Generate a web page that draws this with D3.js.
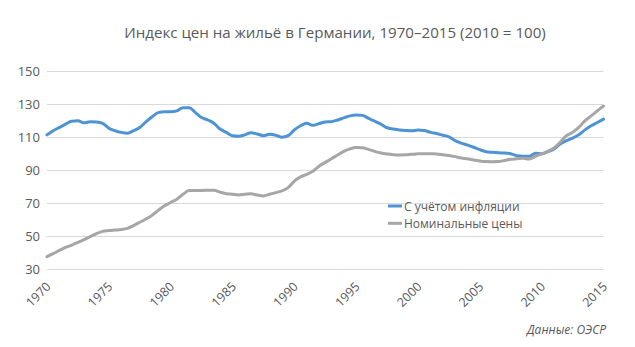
<!DOCTYPE html>
<html><head><meta charset="utf-8">
<script src="https://cdn.jsdelivr.net/npm/d3@7/dist/d3.min.js"></script>
<style>
html,body{margin:0;padding:0;background:#fff;}
svg{display:block;font-family:"Open Sans","Noto Sans",sans-serif;}
</style></head>
<body>
<svg id="chart" width="635" height="347"></svg>
<script>
// Semi-annual observation dates (year + fraction)
const years = d3.range(0, 91).map(i => 1970 + i * 0.5);

const realPrices = [
 111.0,113.5,115.5,117.5,119.3,119.5,118.3,119.0,118.8,118.0,
 115.0,113.5,112.5,112.0,113.5,115.5,118.8,122.0,124.5,125.0,
 125.0,125.5,127.5,127.5,124.5,121.5,120.0,118.0,114.5,112.5,
 110.5,110.2,111.0,112.2,111.5,110.5,111.3,110.8,109.5,110.5,
 114.0,116.5,118.0,116.8,117.8,118.8,119.0,120.0,121.3,122.5,
 123.0,122.8,121.0,119.3,117.5,115.3,114.5,113.9,113.6,113.5,
 113.9,113.7,112.5,111.8,110.8,109.8,107.5,106.0,104.8,103.5,
 102.0,100.8,100.4,100.1,100.0,99.6,98.3,98.0,98.0,99.8,
 99.5,100.8,102.5,105.5,107.5,109.0,111.0,114.0,116.5,118.5,
 120.5
];

const nominalPrices = [
 37.2,39.0,41.0,42.8,44.2,45.8,47.5,49.3,51.2,52.5,
 53.0,53.3,53.6,54.3,56.0,58.0,60.0,62.3,65.2,68.0,
 70.0,72.0,75.0,77.2,77.3,77.3,77.5,77.5,76.3,75.3,
 75.0,74.6,75.0,75.3,74.5,74.0,75.0,76.0,77.0,79.0,
 83.0,85.5,87.0,89.0,92.0,94.3,96.5,98.8,101.0,102.5,
 103.3,103.2,102.2,101.0,100.0,99.4,99.0,98.8,98.9,99.2,
 99.5,99.6,99.5,99.4,99.0,98.5,97.8,97.0,96.5,95.8,
 95.2,94.8,94.7,94.8,95.5,96.2,96.5,96.8,96.3,98.0,
 99.5,101.0,103.0,106.5,110.5,112.5,115.5,119.5,122.5,125.5,
 128.5
];

const seriesNames = ["С учётом инфляции", "Номинальные цены"];
const xTickYears = [1970,1975,1980,1985,1990,1995,2000,2005,2010,2015];
const yTicks = [30,50,70,90,110,130,150];
const titleText = "Индекс цен на жильё в Германии, 1970–2015 (2010 = 100)";
const sourceText = "Данные: ОЭСР";

(function(){
const colors = ["#4e93d3", "#a6a6a6"];
const textColor = "#595959";

const svg = d3.select("#chart");
const mLeft = 47, mRight = 603.5, mTop = 70.5, mBottom = 268.5;

const x = d3.scaleLinear().domain([1970, 2015]).range([mLeft, mRight]);
const y = d3.scaleLinear().domain([30, 150]).range([mBottom, mTop]);

// Title
svg.append("text")
  .attr("x", 335).attr("y", 38)
  .attr("text-anchor", "middle")
  .attr("font-size", 15.1)
  .attr("fill", textColor)
  .text(titleText);

// Gridlines
svg.append("g").selectAll("line").data(yTicks).join("line")
  .attr("x1", mLeft).attr("x2", mRight)
  .attr("y1", d => Math.round(y(d)) + 0.5).attr("y2", d => Math.round(y(d)) + 0.5)
  .attr("stroke", "#d9d9d9").attr("stroke-width", 1);

// Y axis labels
const yAxis = d3.axisLeft(y).tickValues(yTicks).tickSize(0).tickPadding(0);
const gy = svg.append("g").attr("transform", "translate(40,0)").call(yAxis);
gy.select(".domain").remove();
gy.selectAll("text").attr("font-size", 13).attr("fill", textColor)
  .attr("font-family", "'Open Sans','Noto Sans',sans-serif").attr("dy", "0.35em");

// X axis labels (rotated)
const xAxis = d3.axisBottom(x).tickValues(xTickYears).tickFormat(d3.format("d")).tickSize(0).tickPadding(0);
const gx = svg.append("g").attr("transform", `translate(0,${mBottom})`).call(xAxis);
gx.select(".domain").remove();
gx.selectAll("text")
  .attr("font-size", 12.5).attr("fill", textColor)
  .attr("font-family", "'Open Sans','Noto Sans',sans-serif")
  .attr("text-anchor", "end")
  .attr("dy", 0).attr("y", 0)
  .attr("transform", "translate(4,19) rotate(-45)");

// Lines
const line = d3.line().x((d, i) => x(years[i])).y(d => y(d)).curve(d3.curveMonotoneX);
[realPrices, nominalPrices].forEach((vals, k) => {
  svg.append("path").datum(vals)
    .attr("d", line)
    .attr("fill", "none")
    .attr("stroke", colors[k])
    .attr("stroke-width", 3)
    .attr("stroke-linejoin", "round")
    .attr("stroke-linecap", "round");
});

// Legend
const legend = svg.append("g");
seriesNames.forEach((name, k) => {
  const ly = 206 + k * 17.3;
  legend.append("line")
    .attr("x1", 388).attr("x2", 402).attr("y1", ly).attr("y2", ly)
    .attr("stroke", colors[k]).attr("stroke-width", 3);
  legend.append("text")
    .attr("x", 404).attr("y", ly + 4.5)
    .attr("font-size", 12).attr("fill", textColor)
    .text(name);
});

// Source
svg.append("text")
  .attr("x", 606).attr("y", 334)
  .attr("text-anchor", "end")
  .attr("font-size", 12).attr("font-style", "italic")
  .attr("fill", textColor)
  .text(sourceText);
})();
</script>
</body></html>
